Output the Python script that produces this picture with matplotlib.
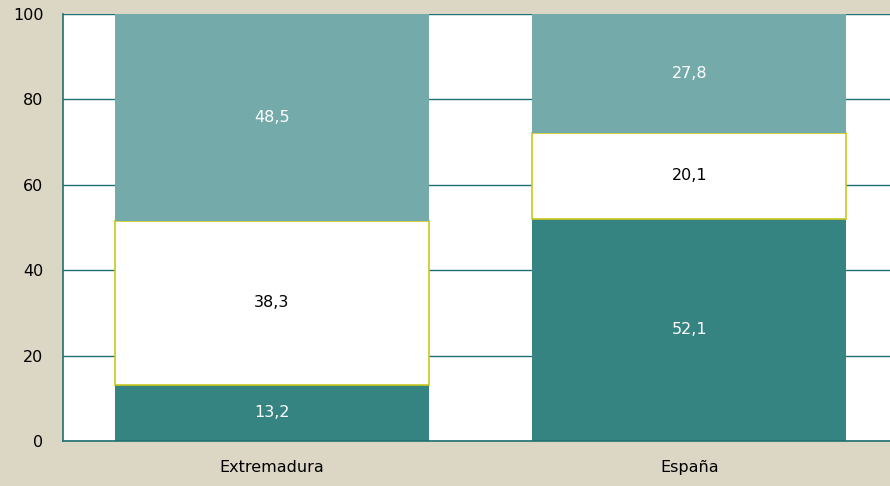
import matplotlib.pyplot as plt
import numpy as np

categorias = ['Extremadura', 'España']
bajo = [13.2, 52.1]
medio = [38.3, 20.1]
alto = [48.5, 27.8]

fondo = '#dcd6c4'
oscuro = '#358482'
claro = '#74abaa'
linea = '#1f7070'

fig = plt.figure(figsize=(8.9, 4.86), dpi=100, facecolor=fondo)
ax = fig.add_axes([63/890, 45/486, 835/890, 427/486])
ax.set_facecolor('white')

x = np.arange(len(categorias))
w = 0.753
b1 = ax.bar(x, bajo, w, color=oscuro, zorder=2)
b2 = ax.bar(x, medio, w, bottom=bajo, color='white', edgecolor='#c8c81e', linewidth=1.2, zorder=2)
base3 = np.array(bajo) + np.array(medio)
b3 = ax.bar(x, alto, w, bottom=base3, color=claro, zorder=2)

def etiqueta(v):
    return f'{v:.1f}'.replace('.', ',')

for i in range(len(categorias)):
    ax.text(x[i], bajo[i] / 2, etiqueta(bajo[i]), ha='center', va='center', color='white', fontsize=11.5, zorder=3)
    ax.text(x[i], bajo[i] + medio[i] / 2, etiqueta(medio[i]), ha='center', va='center', color='black', fontsize=11.5, zorder=3)
    ax.text(x[i], base3[i] + alto[i] / 2, etiqueta(alto[i]), ha='center', va='center', color='white', fontsize=11.5, zorder=3)

ax.set_xlim(-0.5, 1.5)
ax.set_ylim(0, 100)
ax.set_yticks([0, 20, 40, 60, 80, 100])
ax.set_xticks(x)
ax.set_xticklabels(categorias)
ax.yaxis.grid(True, color=linea, linewidth=1.0, zorder=1)
ax.set_axisbelow(True)
ax.tick_params(axis='both', length=0, labelsize=11.5)
ax.tick_params(axis='y', pad=14)
ax.tick_params(axis='x', pad=14)
for s in ['top', 'right']:
    ax.spines[s].set_visible(False)
for s in ['left', 'bottom']:
    ax.spines[s].set_color(linea)
    ax.spines[s].set_linewidth(1.2)

fig.savefig('out.png', dpi=100, facecolor=fondo)
